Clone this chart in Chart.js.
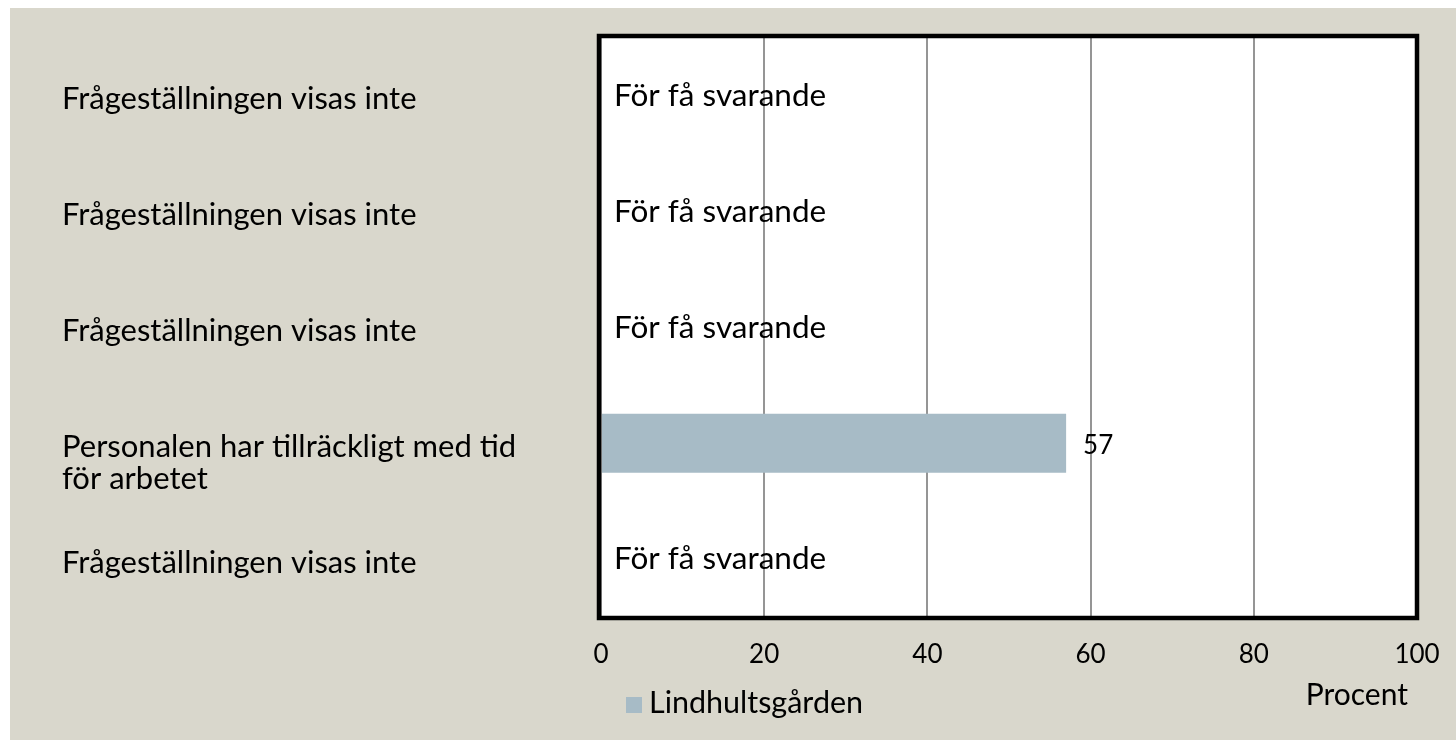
<!DOCTYPE html>
<html><head><meta charset="utf-8">
<script src="https://cdn.jsdelivr.net/npm/chart.js@4"></script>
<style>html,body{margin:0;padding:0;background:#fff;overflow:hidden}canvas{display:block}</style>
</head><body><canvas id="c" width="1456" height="740"></canvas>
<script>
// ---- data ----
const categories = [
  ['Frågeställningen visas inte'],
  ['Frågeställningen visas inte'],
  ['Frågeställningen visas inte'],
  ['Personalen har tillräckligt med tid', 'för arbetet'],
  ['Frågeställningen visas inte']
];
const seriesName = 'Lindhultsgården';
const seriesValues = [null, null, null, 57, null];
const missingNotes = ['För få svarande', 'För få svarande', 'För få svarande', null, 'För få svarande'];
const xTickValues = [0, 20, 40, 60, 80, 100];
const xTitle = 'Procent';

// ---- style ----
const BEIGE = '#D9D7CC';
const BAR = '#A7BBC6';
const GRID = '#959595';
const FONT = 'Lato';

const decor = {
  id: 'decor',
  beforeDraw(chart) {
    const c = chart.ctx;
    c.save();
    c.fillStyle = '#ffffff';
    c.fillRect(0, 0, chart.width, chart.height);
    c.fillStyle = BEIGE;
    c.fillRect(10, 8, chart.width - 10, chart.height - 8);
    const a = chart.chartArea;
    c.fillStyle = '#ffffff';
    c.fillRect(a.left, a.top, a.right - a.left, a.bottom - a.top);
    c.restore();
  },
  afterDraw(chart) {
    const c = chart.ctx, a = chart.chartArea;
    const xs = chart.scales.x, ys = chart.scales.y;
    c.save();
    // plot border
    c.strokeStyle = '#000';
    c.lineWidth = 4.5;
    c.lineJoin = 'miter';
    c.strokeRect(a.left - 2, a.top - 2, a.right - a.left + 2, a.bottom - a.top + 3);
    // category labels
    c.fillStyle = '#000';
    c.textAlign = 'left';
    c.textBaseline = 'alphabetic';
    c.font = '31px "' + FONT + '"';
    categories.forEach((lines, i) => {
      const cy = ys.getPixelForValue(i);
      lines.forEach((t, k) => c.fillText(t, 62, cy + 13.5 + k * 32));
    });
    // value labels / missing notes
    const meta = chart.getDatasetMeta(0);
    seriesValues.forEach((v, i) => {
      const cy = ys.getPixelForValue(i);
      if (v === null || v === undefined) {
        if (missingNotes[i]) {
          c.font = '31.5px "' + FONT + '"';
          c.fillText(missingNotes[i], xs.getPixelForValue(0) + 13, cy + 10);
        }
      } else {
        c.font = '26px "' + FONT + '"';
        c.fillText(String(v), meta.data[i].x + 17, cy + 11);
      }
    });
    // axis title
    c.font = '30px "' + FONT + '"';
    c.textAlign = 'right';
    c.fillText(xTitle, 1408, 705);
    // legend
    c.fillStyle = BAR;
    c.fillRect(626, 697, 16, 16);
    c.fillStyle = '#000';
    c.textAlign = 'left';
    c.font = '30.5px "' + FONT + '"';
    c.fillText(seriesName, 649, 713);
    c.restore();
  }
};

function draw() {
  new Chart(document.getElementById('c'), {
    type: 'bar',
    data: {
      labels: categories,
      datasets: [{
        label: seriesName,
        data: seriesValues,
        backgroundColor: BAR,
        borderWidth: 0,
        categoryPercentage: 1,
        barPercentage: 0.51
      }]
    },
    options: {
      indexAxis: 'y',
      responsive: false,
      animation: false,
      devicePixelRatio: 1,
      layout: { padding: { left: 62, top: 38, right: 39, bottom: 0 } },
      plugins: { legend: { display: false }, tooltip: { enabled: false } },
      scales: {
        x: {
          type: 'linear',
          min: 0, max: 100,
          afterBuildTicks: s => { s.ticks = xTickValues.map(v => ({ value: v })); },
          afterFit: s => { s.height = 123; s.paddingLeft = 0; s.paddingRight = 0; },
          ticks: { color: '#000', font: { family: FONT, size: 26 }, padding: 22, maxRotation: 0 },
          grid: { color: GRID, lineWidth: 2, drawTicks: false },
          border: { display: false }
        },
        y: {
          type: 'category',
          afterFit: s => { s.width = 539; s.paddingTop = 0; s.paddingBottom = 0; },
          ticks: { display: false },
          grid: { display: false },
          border: { display: false }
        }
      }
    },
    plugins: [decor]
  });
}
document.fonts.load('30px "Lato"').then(draw, draw);
</script></body></html>
